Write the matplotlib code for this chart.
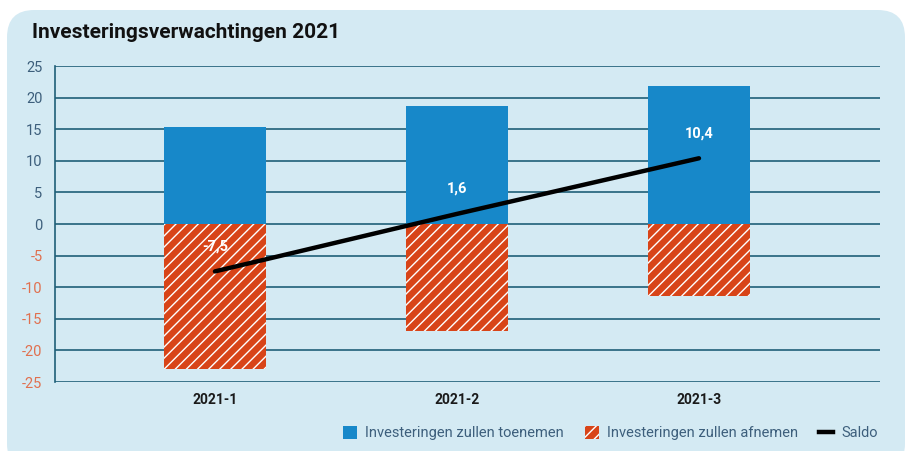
import matplotlib
matplotlib.use("Agg")
import matplotlib.pyplot as plt
from matplotlib.patches import FancyBboxPatch, Patch
from matplotlib.lines import Line2D

categories = ["2021-1", "2021-2", "2021-3"]
increase = [15.4, 18.6, 21.8]
decrease = [-22.9, -17.0, -11.4]
saldo = [-7.5, 1.6, 10.4]
saldo_labels = ["-7,5", "1,6", "10,4"]
yticks = [25, 20, 15, 10, 5, 0, -5, -10, -15, -20, -25]

BG = "#d4eaf3"
BLUE = "#1788c9"
ORANGE = "#d84418"
GRID = "#1f5f78"
POS_TXT = "#3d5f7c"
NEG_TXT = "#e0704f"

plt.rcParams["font.family"] = ["Roboto", "DejaVu Sans"]
plt.rcParams["hatch.linewidth"] = 1.0

fig = plt.figure(figsize=(9.10, 4.51), dpi=100)
fig.patch.set_facecolor("white")
bg = FancyBboxPatch((7/910, -20/451), 898/910, (441+20)/451,
                    boxstyle="round,pad=0,rounding_size=0.03",
                    transform=fig.transFigure, facecolor=BG, edgecolor="none",
                    mutation_aspect=910/451, zorder=-10)
fig.patches.append(bg)

ax = fig.add_axes([55/910, 1-382/451, (880-55)/910, (382-66)/451])
ax.set_zorder(1)
ax.set_facecolor("none")
x = list(range(len(categories)))
w = 0.42
ax.bar(x, increase, width=w, color=BLUE, linewidth=0, zorder=3)
ax.bar(x, decrease, width=w, color=ORANGE, edgecolor="white", hatch="///", linewidth=0, zorder=3)
ax.plot(x, saldo, color="black", lw=3.2, solid_capstyle="round", zorder=4)
for xi, v, lab in zip(x, saldo, saldo_labels):
    ax.annotate(lab, (xi, v), xytext=(0, 13), textcoords="offset points",
                ha="center", va="bottom", color="white", fontsize=10.5,
                fontweight="bold", zorder=5)

ax.set_xlim(-0.661, 2.748)
ax.set_ylim(-25, 25)
ax.set_yticks(yticks)
ax.set_yticklabels([str(t) for t in yticks], fontsize=10.5)
for t, lab in zip(yticks, ax.get_yticklabels()):
    lab.set_color(NEG_TXT if t < 0 else POS_TXT)
for t in yticks:
    ax.axhline(t, color=GRID, lw=1.2, zorder=1)
ax.set_xticks(x)
ax.set_xticklabels(categories, fontsize=10, fontweight="bold", color="#1a1a1a")
ax.tick_params(axis="both", length=0)
ax.tick_params(axis="y", pad=9)
ax.tick_params(axis="x", pad=8)
for s in ["top", "right", "bottom"]:
    ax.spines[s].set_visible(False)
ax.spines["left"].set_color(GRID)
ax.spines["left"].set_linewidth(1.2)

fig.text(32/910, 1-33/451, "Investeringsverwachtingen 2021", fontsize=15,
         fontweight="bold", color="#111111", va="center", ha="left")

handles = [Patch(facecolor=BLUE, edgecolor="none"),
           Patch(facecolor=ORANGE, edgecolor="white", hatch="///", linewidth=0),
           Line2D([0], [0], color="black", lw=3.2)]
labels = ["Investeringen zullen toenemen", "Investeringen zullen afnemen", "Saldo"]
leg = fig.legend(handles, labels, loc="center right", bbox_to_anchor=(891/910, 1-433/451),
                 ncol=3, frameon=False, handlelength=1.0, handleheight=1.0,
                 handletextpad=0.55, columnspacing=1.4, labelcolor=POS_TXT,
                 prop={"family": ["Roboto", "DejaVu Sans"], "size": 10.5})

fig.savefig("out.png", dpi=100, facecolor="white")
